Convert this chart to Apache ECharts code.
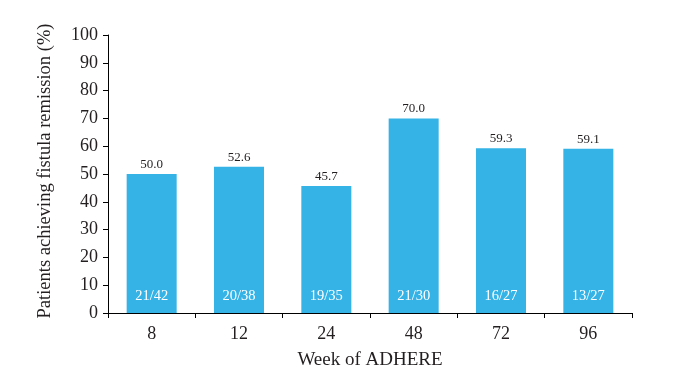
<!DOCTYPE html>
<html><head><meta charset="utf-8">
<script src="https://cdn.jsdelivr.net/npm/echarts@6/dist/echarts.min.js"></script>
<style>html,body{margin:0;padding:0;background:#fff}#c{width:673px;height:386px}</style>
</head><body><div id="c"></div>
<script>
const categories = ['8', '12', '24', '48', '72', '96'];
const remission = [50.0, 52.6, 45.7, 70.0, 59.3, 59.1];
const fractions = ['21/42', '20/38', '19/35', '21/30', '16/27', '13/27'];
const yTicks = [0, 10, 20, 30, 40, 50, 60, 70, 80, 90, 100];

const font = 'Liberation Serif';
const txt = '#231f20';
const chart = echarts.init(document.getElementById('c'));
chart.setOption({
  animation: false,
  grid: { left: 108, right: 41, top: 35, bottom: 73 },
  xAxis: {
    type: 'category', data: categories,
    name: 'Week of ADHERE', nameLocation: 'middle', nameGap: 38,
    nameTextStyle: { fontFamily: font, fontSize: 19, color: txt },
    axisLine: { lineStyle: { color: '#000', width: 1 } },
    axisTick: { show: true, length: 5, lineStyle: { color: '#000' } },
    axisLabel: { fontFamily: font, fontSize: 18, color: txt, margin: 12 }
  },
  yAxis: {
    type: 'value', min: yTicks[0], max: yTicks[yTicks.length - 1], interval: 10,
    name: 'Patients achieving fistula remission (%)', nameLocation: 'middle', nameGap: 53,
    nameTextStyle: { fontFamily: font, fontSize: 18.5, color: txt, padding: [0, 0, 0, 6] },
    splitLine: { show: false },
    axisLine: { show: true, lineStyle: { color: '#000', width: 1 } },
    axisTick: { show: true, length: 5, lineStyle: { color: '#000' } },
    axisLabel: { fontFamily: font, fontSize: 18, color: txt, margin: 10 }
  },
  series: [
    {
      type: 'bar', data: remission, barWidth: 50,
      itemStyle: { color: '#35b3e6' },
      label: { show: true, position: 'top', distance: 3, fontFamily: font, fontSize: 13, color: txt,
        formatter: p => p.value.toFixed(1) }
    },
    {
      type: 'bar', data: remission, barWidth: 50, barGap: '-100%',
      itemStyle: { color: 'rgba(0,0,0,0)' },
      label: { show: true, position: 'insideBottom', distance: 9, fontFamily: font, fontSize: 14.5, color: '#fff',
        formatter: p => fractions[p.dataIndex] }
    }
  ]
});
</script></body></html>
